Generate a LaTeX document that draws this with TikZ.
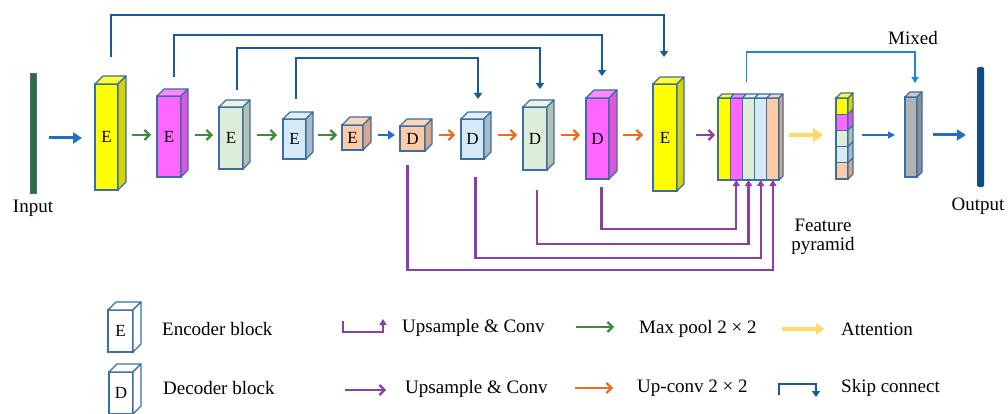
\documentclass[tikz,border=0pt]{standalone}
\usepackage{fontspec}
\setmainfont{Liberation Serif}
\usetikzlibrary{arrows.meta,calc}
\definecolor{bord}{HTML}{3A6EA5}
\definecolor{yelF}{HTML}{FFFF00}\definecolor{yelS}{HTML}{D4D400}\definecolor{yelT}{HTML}{FFFF33}
\definecolor{magF}{HTML}{FF66FF}\definecolor{magS}{HTML}{E055DC}\definecolor{magT}{HTML}{FF88FF}
\definecolor{grnF}{HTML}{DDEED8}\definecolor{grnS}{HTML}{B3C0AD}\definecolor{grnT}{HTML}{E8F3E3}
\definecolor{bluF}{HTML}{D6E9F6}\definecolor{bluS}{HTML}{A8B9C7}\definecolor{bluT}{HTML}{E2EFF8}
\definecolor{pchF}{HTML}{FBCAA6}\definecolor{pchS}{HTML}{D8A78A}\definecolor{pchT}{HTML}{FCD6BA}
\definecolor{gryF}{HTML}{B3B3B3}\definecolor{gryS}{HTML}{8E8E8E}\definecolor{gryT}{HTML}{CBCBCB}
\definecolor{whtF}{HTML}{FFFFFF}\definecolor{whtS}{HTML}{FFFFFF}\definecolor{whtT}{HTML}{FFFFFF}
\definecolor{arrGreen}{HTML}{3C8D3C}
\definecolor{arrOrange}{HTML}{EE6A1C}
\definecolor{arrPurple}{HTML}{8C3FAA}
\definecolor{arrYellow}{HTML}{FFD966}
\definecolor{arrBlue}{HTML}{1F6FC5}
\definecolor{skipBlue}{HTML}{1A5A9A}
\definecolor{mixBlue}{HTML}{1E86D6}
\definecolor{inGreen}{HTML}{2F6B3F}
\definecolor{outBlue}{HTML}{0F4C8A}
\tikzset{
  face/.style={draw=bord, line width=1.1pt, inner sep=0pt, outer sep=0pt,
    font=\fontsize{17}{17}\selectfont},
  facel/.style={draw=bord, line width=1.1pt, line join=round},
  lbl/.style={font=\fontsize{19}{22}\selectfont, inner sep=0pt},
  barbarr/.style={line width=2.2pt, -{Straight Barb[length=5pt,width=10pt,line width=2.2pt]}},
  grnarr/.style={barbarr, draw=arrGreen},
  orgarr/.style={barbarr, draw=arrOrange},
  purarr/.style={barbarr, draw=arrPurple},
  bluarr/.style={line width=3pt, draw=arrBlue, -{Triangle[length=9pt,width=11pt]}},
  thinarr/.style={line width=1.3pt, draw=arrBlue, -{Triangle[length=7pt,width=7pt]}},
  yelarr/.style={line width=4pt, draw=arrYellow, -{Triangle[length=10pt,width=14pt]}},
  skiparr/.style={line width=2.4pt, draw=skipBlue, -{Triangle[length=6pt,width=8pt]}},
  mixarr/.style={line width=1.6pt, draw=mixBlue, -{Triangle[length=6pt,width=7pt]}},
  purup/.style={line width=2.3pt, draw=arrPurple, -{Triangle[length=6pt,width=7pt]}},
}
% name, x, y, w, h, d, colour prefix, label
\newcommand\mycube[8]{%
  \node[face, fill=#7F, minimum width=#4pt, minimum height=#5pt] (#1) at (#2,#3) {#8};
  \draw[facel, fill=#7T] (#1.north west) -- ++(#6,-#6) -- ++(#4,0) -- (#1.north east) -- cycle;
  \draw[facel, fill=#7S] (#1.north east) -- ++(#6,-#6) -- ++(0,#5) -- (#1.south east) -- cycle;
}
% strip with top face only
\newcommand\mystrip[7]{%
  \node[face, fill=#7F, minimum width=#4pt, minimum height=#5pt] (#1) at (#2,#3) {};
  \draw[facel, fill=#7T] (#1.north west) -- ++(#6,-#6) -- ++(#4,0) -- (#1.north east) -- cycle;
}
% cell with side face only
\newcommand\mycell[7]{%
  \node[face, fill=#7F, minimum width=#4pt, minimum height=#5pt] (#1) at (#2,#3) {};
  \draw[facel, fill=#7S] (#1.north east) -- ++(#6,-#6) -- ++(0,#5) -- (#1.south east) -- cycle;
}
\newcommand\mylink[3]{\draw[#1] ($(#2.east |- row)+(14,0)$) -- ($(#3.west |- row)+(-6,0)$);}
\begin{document}
\begin{tikzpicture}[x=1pt,y=-1pt]
\useasboundingbox (0,0) rectangle (1008,414);
\coordinate (row) at (0,135);
% input / output
\node[draw=bord, fill=inGreen, line width=1pt, minimum width=6pt, minimum height=119pt, inner sep=0pt] (in) at (33,133.5) {};
\node[lbl] (inl) at (33,208) {Input};
\node[fill=outBlue, rounded corners=1.5pt, minimum width=7pt, minimum height=120pt, inner sep=0pt] (out) at (980.5,127) {};
\node[lbl] (outl) at (978,206) {Output};
% encoder
\mycube{E1}{106.5}{137}{23}{106}{8}{yel}{E}
\mycube{E2}{169}{136.5}{24}{81}{7}{mag}{E}
\mycube{E3}{231}{138}{24}{62}{7}{grn}{E}
\mycube{E4}{294.5}{139}{23}{40}{7}{blu}{E}
\mycube{E5}{352.5}{137.5}{21}{25}{8}{pch}{E}
% decoder
\mycube{D1}{412.5}{138.5}{25}{25}{7}{pch}{D}
\mycube{D2}{472.5}{139}{23}{40}{7}{blu}{D}
\mycube{D3}{535}{138.5}{24}{63}{7}{grn}{D}
\mycube{D4}{597.5}{138.5}{23}{81}{8}{mag}{D}
\mycube{D5}{665}{137.5}{24}{107}{7}{yel}{E}
% feature pyramid
\mystrip{P1}{724.1}{139}{12.2}{82}{4}{yel}
\mystrip{P2}{736.3}{139}{12.2}{82}{4}{mag}
\mystrip{P3}{748.5}{139}{12.2}{82}{4}{grn}
\mystrip{P4}{760.7}{139}{12.2}{82}{4}{blu}
\mycube{P5}{772.9}{139}{12.2}{82}{4}{pch}{}
\node[lbl, align=center] (fpl) at (823,237) {Feature\\[-3pt]pyramid};
% attention column
\mycell{A1}{842}{106.1}{12}{16.2}{5}{yel}
\draw[facel, fill=yelT] (A1.north west) -- ++(5,-5) -- ++(12,0) -- (A1.north east) -- cycle;
\mycell{A2}{842}{122.3}{12}{16.2}{5}{mag}
\mycell{A3}{842}{138.5}{12}{16.2}{5}{grn}
\mycell{A4}{842}{154.7}{12}{16.2}{5}{blu}
\mycell{A5}{842}{170.9}{12}{16.2}{5}{pch}
% grey mixed block
\mycube{G}{911}{137}{12}{80}{5}{gry}{}
\node[lbl] (mixl) at (913,38) {Mixed};
% main flow arrows
\draw[bluarr] ($(in.east)+(12,4.5)$) -- ($(E1.west |- in.east)+(-13,4.5)$);
\mylink{grnarr}{E1}{E2}
\mylink{grnarr}{E2}{E3}
\mylink{grnarr}{E3}{E4}
\draw[grnarr] ($(E4.east |- row)+(12,0)$) -- ($(E5.west |- row)+(-5,0)$);
\draw[line width=2.6pt, draw=arrBlue, -{Triangle[length=7pt,width=9pt]}] ($(E5.east |- row)+(15,0)$) -- ($(D1.west |- row)+(-5,0)$);
\mylink{orgarr}{D1}{D2}
\mylink{orgarr}{D2}{D3}
\mylink{orgarr}{D3}{D4}
\draw[orgarr] ($(D4.east |- row)+(14,0)$) -- ($(D5.west |- row)+(-10,0)$);
\draw[purarr] ($(D5.east |- row)+(19,0)$) -- ($(P1.west |- row)+(-3,0)$);
\draw[yelarr] ($(P5.east |- row)+(10,0)$) -- ($(A1.west |- row)+(-13,0)$);
\draw[thinarr] ($(A1.east |- row)+(14,0)$) -- ($(G.west |- row)+(-10,0)$);
\draw[bluarr] ($(G.east |- row)+(16,0)$) -- ($(out.west |- row)+(-11,0)$);
% skip connections
\draw[skiparr] ($(E1.north)+(4.5,-27)$) -- ++(0,-42) -| ($(D5.north)+(-1,-27)$);
\draw[skiparr] ($(E2.north)+(5,-19)$) -- ++(0,-42) -| ($(D4.north)+(4.5,-22)$);
\draw[skiparr] ($(E3.north)+(6,-17)$) -- ++(0,-42) -| ($(D3.north)+(5,-18)$);
\draw[skiparr] ($(E4.north)+(1.5,-20)$) -- ++(0,-41) -| ($(D2.north)+(5.5,-20)$);
% mixed connection
\draw[mixarr] ($(P3.north)+(-2,-16)$) -- ++(0,-30) -| ($(G.north)+(4,-14)$);
% decoder to pyramid
\draw[purup] ($(D4.south)+(4,8)$) |- ($(P2.south)+(0,49)$) -- (P2.south);
\draw[purup] ($(D3.south)+(2,20)$) |- ($(P3.south)+(0,64)$) -- (P3.south);
\draw[purup] ($(D2.south)+(3,18)$) |- ($(P4.south)+(0,78)$) -- (P4.south);
\draw[purup] ($(D1.south)+(-5,14)$) |- ($(P5.south)+(0,90)$) -- (P5.south);
% legend
\mycube{LE}{120.5}{331}{25}{42}{8}{wht}{E}
\mycube{LD}{121}{393}{24}{42}{8}{wht}{D}
\node[lbl, anchor=west] (t1) at (162,329) {Encoder block};
\node[lbl, anchor=west] (t2) at (163,388) {Decoder block};
\coordinate (u1a) at (343,321); \coordinate (u1b) at (383,319);
\draw[purup, line width=2pt] (u1a) -- ++(0,11) -| (u1b);
\node[lbl, anchor=west] (t3) at (402,328) {Upsample \& Conv};
\coordinate (u2a) at (345,390); \coordinate (u2b) at (386,390);
\draw[purarr] (u2a) -- (u2b);
\node[lbl, anchor=west] (t4) at (405,389) {Upsample \& Conv};
\coordinate (m1a) at (576,327); \coordinate (m1b) at (614,327);
\draw[grnarr] (m1a) -- (m1b);
\node[lbl, anchor=west] (t5) at (639,329) {Max pool 2 × 2};
\coordinate (o1a) at (575,388); \coordinate (o1b) at (613,388);
\draw[orgarr] (o1a) -- (o1b);
\node[lbl, anchor=west] (t6) at (637,388) {Up-conv 2 × 2};
\coordinate (y1a) at (782,329); \coordinate (y1b) at (824,329);
\draw[yelarr, line width=3.5pt, -{Triangle[length=8pt,width=11pt]}] (y1a) -- (y1b);
\node[lbl, anchor=west] (t7) at (841,329) {Attention};
\coordinate (k1a) at (779,395); \coordinate (k1b) at (816,397);
\draw[skiparr] (k1a) -- ++(0,-11) -| (k1b);
\node[lbl, anchor=west] (t8) at (841,388) {Skip connect};
\end{tikzpicture}
\end{document}
